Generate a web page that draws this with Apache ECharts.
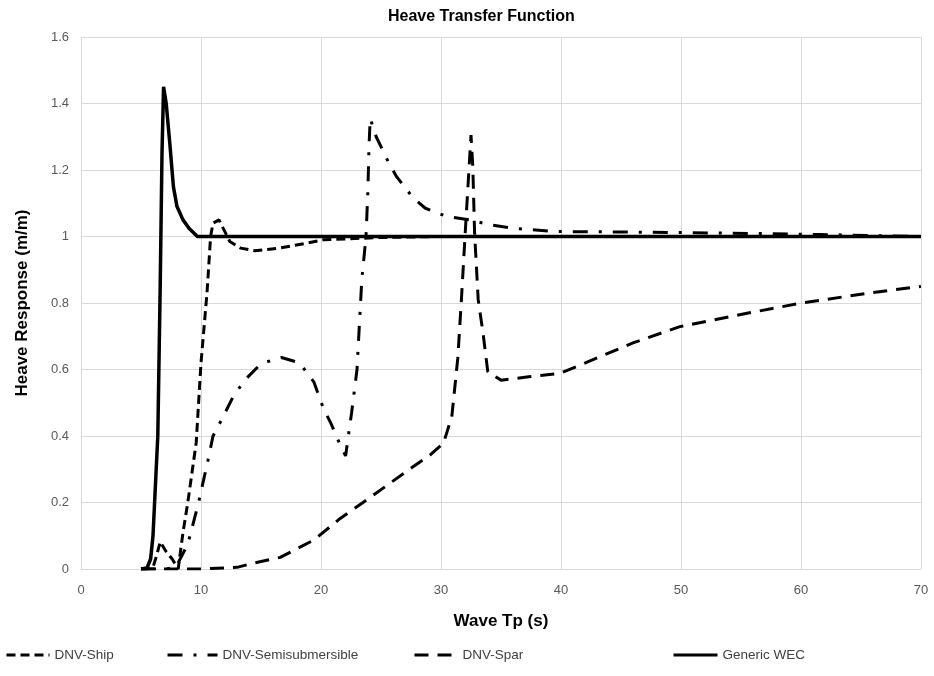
<!DOCTYPE html>
<html>
<head>
<meta charset="utf-8">
<title>Heave Transfer Function</title>
<script src="https://cdn.jsdelivr.net/npm/echarts@6/dist/echarts.min.js"></script>
<style>
	html, body { margin: 0; padding: 0; background: #ffffff; }
	#div_lineMap { width: 934px; height: 676px; }
</style>
</head>
<body>
<div id="div_lineMap"></div>
<script>
// wave period (s) and heave response (m/m)
var shipX = [5, 5.5, 6.0, 6.3, 6.6, 7.1, 7.6, 8.1, 8.5, 8.9, 9.6, 10.0, 10.5, 10.8, 11.0, 11.5, 12.4, 13.3, 14.5, 16.5, 18.8, 20.2, 25, 30, 40, 50, 60, 70];
var shipY = [0, 0, 0.005, 0.04, 0.082, 0.052, 0.03, 0, 0.11, 0.2, 0.38, 0.62, 0.83, 1.0, 1.04, 1.05, 0.985, 0.965, 0.957, 0.965, 0.98, 0.99, 0.997, 1.0, 1.0, 1.0, 1.0, 1.0];

var semiX = [5, 6, 7, 7.9, 8.9, 9.8, 10.6, 11.0, 11.8, 12.7, 13.7, 14.9, 15.5, 16.7, 18.2, 19.4, 20.2, 20.8, 21.6, 22.05, 22.55, 23.0, 23.4, 23.75, 23.9, 24.0, 24.1, 24.6, 25.6, 26.3, 27.7, 28.7, 30.5, 32.4, 34.1, 35.9, 39.4, 46.8, 54.3, 61.6, 70];
var semiY = [0, 0, 0, 0.005, 0.075, 0.2, 0.33, 0.4, 0.455, 0.52, 0.57, 0.614, 0.623, 0.636, 0.62, 0.563, 0.483, 0.44, 0.373, 0.34, 0.47, 0.6, 0.87, 1.0, 1.13, 1.27, 1.355, 1.3, 1.225, 1.18, 1.115, 1.085, 1.06, 1.05, 1.035, 1.025, 1.015, 1.013, 1.01, 1.006, 1.0];

var sparX = [5, 7, 10, 13, 14.4, 16.6, 19.4, 21.6, 23.5, 25.75, 27.7, 29.1, 30.2, 30.9, 31.4, 31.7, 32.0, 32.5, 32.65, 32.8, 33.1, 33.5, 33.9, 35.0, 37.3, 39.9, 41.9, 46, 49.9, 55.5, 59.9, 65.5, 70];
var sparY = [0, 0, 0, 0.005, 0.018, 0.035, 0.087, 0.152, 0.2, 0.258, 0.308, 0.343, 0.378, 0.458, 0.634, 0.81, 1.0, 1.305, 1.21, 1.01, 0.81, 0.71, 0.593, 0.568, 0.578, 0.588, 0.618, 0.68, 0.729, 0.769, 0.799, 0.829, 0.85];

var wecX = [5, 5.5, 5.8, 6.0, 6.2, 6.4, 6.6, 6.75, 6.88, 7.1, 7.4, 7.7, 8.0, 8.5, 9.0, 9.7, 10, 20, 30, 40, 50, 60, 70];
var wecY = [0, 0.003, 0.03, 0.1, 0.25, 0.4, 0.85, 1.25, 1.45, 1.4, 1.28, 1.15, 1.09, 1.05, 1.025, 1.0, 1.0, 1.0, 1.0, 1.0, 1.0, 1.0, 1.0];

var seriesNames = ['DNV-Ship', 'DNV-Semisubmersible', 'DNV-Spar', 'Generic WEC'];

function pairs(xs, ys){
	var out = [];
	for (var i = 0; i < xs.length; i++) {
		out.push([xs[i], ys[i]]);
	}
	return out;
}

function lineSeries(name, data, dash, width){
	return {
		name: name,
		type: 'line',
		symbol: 'none',
		data: data,
		animation: false,
		color: '#000000',
		itemStyle: { color: '#000000' },
		lineStyle: { color: '#000000', width: width, type: dash }
	};
}

function oneLegend(name, left, iconW){
	return {
		data: [name],
		left: left,
		top: 648,
		padding: 0,
		itemWidth: iconW,
		itemHeight: 14,
		itemGap: 0,
		itemStyle: { opacity: 0 },
		lineStyle: { width: 3 },
		textStyle: { fontFamily: 'Liberation Sans', fontSize: 13.5, color: '#404040' }
	};
}

function lineMap(){
	var option = {
		backgroundColor: '#ffffff',
		title: {
			text: 'Heave Transfer Function',
			left: 383,
			top: 4,
			textStyle: { fontFamily: 'Liberation Sans', fontSize: 16, fontWeight: 'bold', color: '#000000' }
		},
		legend: [
			oneLegend(seriesNames[0], 5, 43),
			oneLegend(seriesNames[1], 166, 50),
			oneLegend(seriesNames[2], 413, 43),
			oneLegend(seriesNames[3], 672, 44)
		],
		grid: { left: 81, right: 13, top: 37, bottom: 107 },
		xAxis: {
			type: 'value',
			min: 0,
			max: 70,
			interval: 10,
			name: 'Wave Tp (s)',
			nameLocation: 'middle',
			nameGap: 44,
			nameTextStyle: { fontFamily: 'Liberation Sans', fontSize: 17, fontWeight: 'bold', color: '#000000' },
			axisLine: { lineStyle: { color: '#d9d9d9', width: 1 } },
			axisTick: { show: false },
			axisLabel: { margin: 15, fontFamily: 'Liberation Sans', fontSize: 13, color: '#595959' },
			splitLine: { show: true, lineStyle: { color: '#d9d9d9', width: 1 } }
		},
		yAxis: {
			type: 'value',
			min: 0,
			max: 1.6,
			interval: 0.2,
			name: 'Heave Response (m/m)',
			nameLocation: 'middle',
			nameGap: 50,
			nameTextStyle: { fontFamily: 'Liberation Sans', fontSize: 17, fontWeight: 'bold', color: '#000000' },
			axisLine: { show: false },
			axisTick: { show: false },
			axisLabel: { margin: 12, fontFamily: 'Liberation Sans', fontSize: 13, color: '#595959' },
			splitLine: { show: true, lineStyle: { color: '#d9d9d9', width: 1 } }
		},
		series: [
			lineSeries(seriesNames[0], pairs(shipX, shipY), [9, 5], 3),
			lineSeries(seriesNames[1], pairs(semiX, semiY), [15, 11, 3, 11], 3),
			lineSeries(seriesNames[2], pairs(sparX, sparY), [14, 9], 3),
			lineSeries(seriesNames[3], pairs(wecX, wecY), 'solid', 3.5)
		]
	};

	var myChart = echarts.init(document.getElementById('div_lineMap'));
	myChart.setOption(option);
}

lineMap();
</script>
</body>
</html>
